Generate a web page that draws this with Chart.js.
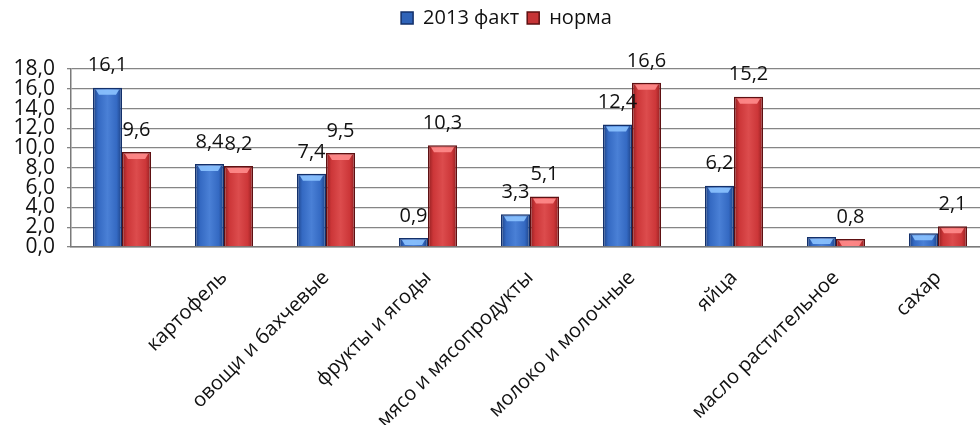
<!DOCTYPE html>
<html lang="ru">
<head>
<meta charset="utf-8">
<title>Потребление продуктов: 2013 факт и норма</title>
<script src="https://cdn.jsdelivr.net/npm/chart.js@4.4.1/dist/chart.umd.min.js"></script>
<style>
  html, body { margin: 0; padding: 0; background: #ffffff; overflow: hidden; }
  #wrap { position: relative; width: 990px; height: 425px; }
</style>
</head>
<body>
<div id="wrap"><canvas id="chart"></canvas></div>
<script>
// Категории (первая подпись на оси пустая)
const categories = [
  "",
  "картофель",
  "овощи и бахчевые",
  "фрукты и ягоды",
  "мясо и мясопродукты",
  "молоко и молочные",
  "яйца",
  "масло растительное",
  "сахар"
];
const factValues = [16.1, 8.4, 7.4, 0.9, 3.3, 12.4, 6.2, 1.0, 1.4];
const normValues = [9.6, 8.2, 9.5, 10.3, 5.1, 16.6, 15.2, 0.8, 2.1];
// Индексы столбцов «2013 факт» без подписи значения
const factUnlabeled = [7, 8];
const yTicks = [0, 2, 4, 6, 8, 10, 12, 14, 16, 18];

const FONT = "'Open Sans', 'Liberation Sans', sans-serif";
const TEXT = '#111111';
const fmt = v => v.toFixed(1).replace('.', ',');

// Объёмная заливка столбцов: тёмные края, светлая середина, светлый верх
const barShading = {
  id: 'barShading',
  beforeDatasetsDraw(chart) {
    const ctx = chart.ctx;
    const palettes = [
      ['#1b3f82', '#3469c2', '#4a80d6'],
      ['#8e1d1f', '#cc3638', '#dc4c4d']
    ];
    chart.data.datasets.forEach((ds, di) => {
      const meta = chart.getDatasetMeta(di);
      const p = palettes[di];
      meta.data.forEach(el => {
        const left = el.x - el.width / 2, right = el.x + el.width / 2;
        const g = ctx.createLinearGradient(left, 0, right, 0);
        g.addColorStop(0, p[0]);
        g.addColorStop(0.18, p[1]);
        g.addColorStop(0.5, p[2]);
        g.addColorStop(0.82, p[1]);
        g.addColorStop(1, p[0]);
        el.options = Object.assign({}, el.options, { backgroundColor: g });
      });
    });
  },
  afterDatasetsDraw(chart) {
    const ctx = chart.ctx;
    const caps = ['rgba(140,195,255,0.9)', 'rgba(255,140,140,0.9)'];
    chart.data.datasets.forEach((ds, di) => {
      const meta = chart.getDatasetMeta(di);
      meta.data.forEach(el => {
        const h = el.base - el.y;
        if (h < 3) return;
        const capH = Math.min(5, h - 2);
        const left = el.x - el.width / 2 + 3, right = el.x + el.width / 2 - 3;
        ctx.save();
        ctx.fillStyle = caps[di];
        ctx.beginPath();
        ctx.moveTo(left, el.y + 2);
        ctx.lineTo(right, el.y + 2);
        ctx.lineTo(right - 3, el.y + 2 + capH);
        ctx.lineTo(left + 3, el.y + 2 + capH);
        ctx.closePath();
        ctx.fill();
        ctx.restore();
      });
    });
  }
};

// Подписи значений над столбцами
const valueLabels = {
  id: 'valueLabels',
  afterDatasetsDraw(chart) {
    const ctx = chart.ctx;
    ctx.save();
    ctx.font = '20px ' + FONT;
    ctx.fillStyle = TEXT;
    ctx.textAlign = 'center';
    ctx.textBaseline = 'middle';
    chart.data.datasets.forEach((ds, di) => {
      const meta = chart.getDatasetMeta(di);
      meta.data.forEach((el, i) => {
        if (di === 0 && factUnlabeled.includes(i)) return;
        ctx.fillText(fmt(ds.data[i]), el.x, el.y - 22);
      });
    });
    ctx.restore();
  }
};

// Фиксированная высота блока легенды и небольшой сдвиг вправо
const legendSpace = {
  id: 'legendSpace',
  beforeInit(chart) {
    const fit = chart.legend.fit;
    chart.legend.fit = function () { fit.call(this); this.height = 69; };
  },
  afterLayout(chart) {
    chart.legend.left += 12;
    chart.legend.right += 12;
  }
};

new Chart(document.getElementById('chart'), {
  type: 'bar',
  data: {
    labels: categories,
    datasets: [
      {
        label: '2013 факт',
        data: factValues,
        backgroundColor: '#2f63b8',
        borderColor: '#13306a',
        borderWidth: 1.5,
        borderSkipped: 'bottom',
        categoryPercentage: 0.57,
        barPercentage: 1.0
      },
      {
        label: 'норма',
        data: normValues,
        backgroundColor: '#c63436',
        borderColor: '#5e1012',
        borderWidth: 1.5,
        borderSkipped: 'bottom',
        categoryPercentage: 0.57,
        barPercentage: 1.0
      }
    ]
  },
  options: {
    responsive: true,
    maintainAspectRatio: false,
    animation: false,
    layout: { padding: { left: 0, right: 1, top: 0, bottom: 0 } },
    plugins: {
      legend: {
        position: 'top',
        align: 'center',
        labels: {
          font: { family: FONT, size: 20 },
          color: TEXT,
          boxWidth: 12,
          boxHeight: 12,
          padding: 8,
          useBorderRadius: false
        }
      },
      tooltip: { enabled: false }
    },
    scales: {
      x: {
        offset: true,
        grid: { display: false, drawTicks: false },
        border: { display: true, color: '#7a7a7a', width: 1.5 },
        ticks: {
          autoSkip: false,
          maxRotation: 45,
          minRotation: 45,
          padding: 19,
          font: { family: FONT, size: 20 },
          color: TEXT
        },
        afterFit(scale) { scale.height = 178; }
      },
      y: {
        min: 0,
        max: 18,
        afterBuildTicks(scale) { scale.ticks = yTicks.map(v => ({ value: v })); },
        grid: { color: '#858585', lineWidth: 1.3, tickLength: 4 },
        border: { display: true, color: '#7a7a7a', width: 1.5 },
        ticks: {
          autoSkip: false,
          padding: 12,
          font: { family: FONT, size: 21, lineHeight: 1 },
          color: TEXT,
          callback: v => fmt(v)
        },
        afterFit(scale) { scale.width = 71; }
      }
    }
  },
  plugins: [legendSpace, barShading, valueLabels]
});
</script>
</body>
</html>
